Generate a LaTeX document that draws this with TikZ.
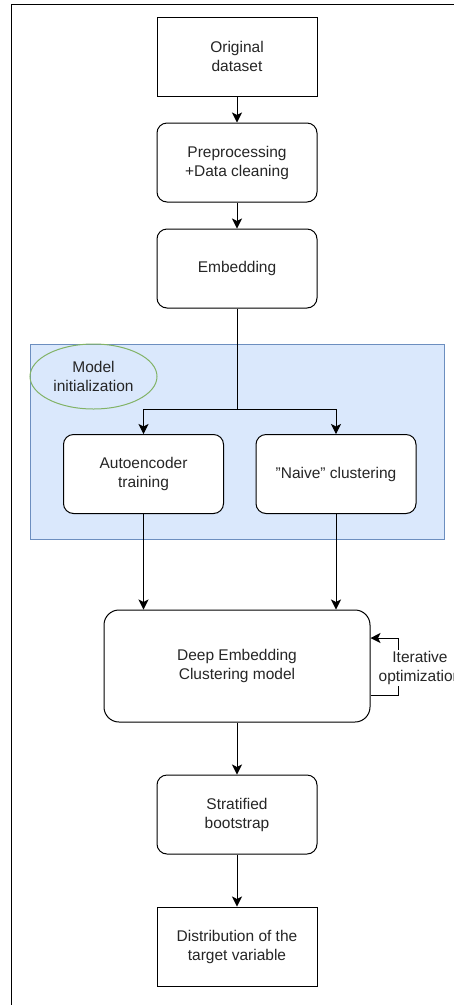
\documentclass[tikz,border=0pt]{standalone}
\usepackage{fontspec}
\setmainfont{Liberation Sans}
\usetikzlibrary{arrows.meta, positioning, shapes.geometric}
\definecolor{areafill}{HTML}{DAE8FC}
\definecolor{areadraw}{HTML}{6C8EBF}
\definecolor{labeldraw}{HTML}{82B366}
\tikzset{
>={Stealth[length=10pt,width=10pt,inset=2.5pt]}, % filled arrow heads
node distance=26pt, % gap between the boxes of the main column
every node/.style={font=\fontsize{15.5}{19}\selectfont, text=black!85},
box/.style={draw, line width=1pt, fill=white, minimum width=160pt, minimum height=79pt, align=center},
roundbox/.style={box, rounded corners=10pt}, % rounded process box
initarea/.style={draw=areadraw, fill=areafill, line width=1pt},
initlabel/.style={ellipse, draw=labeldraw, line width=1pt, minimum width=127pt, minimum height=65pt, align=center, inner sep=0pt},
looplabel/.style={fill=white, align=center, inner sep=1pt},
}
\begin{document}
\begin{tikzpicture}[x=1pt,y=1pt,line width=1pt]
  \useasboundingbox (0,0) rectangle (454,-1005);
  % outer frame
  \draw (11,-1005) -- (11,-4.5) -- (454,-4.5);
  % model initialization area
  \draw[initarea] (30,-344) rectangle (444,-539);
  \node[initlabel] (init) at (93.5,-376.5) {Model\\initialization};

  \node[box] (orig) at (237,-56.5) {Original\\dataset};
  \node[roundbox, below=of orig] (prep) {Preprocessing\\+Data cleaning};
  \node[roundbox, below=of prep] (embed) {Embedding};
  \node[roundbox] (autoenc) at (143.5,-474) {Autoencoder\\training};
  \node[roundbox] (naive) at (336,-474) {\symbol{34}Naive\symbol{34} clustering};
  \node[roundbox, rounded corners=15pt, minimum width=266pt, minimum height=112pt] (dec) at (237,-666) {Deep Embedding\\Clustering model};
  \node[roundbox, below=52pt of dec] (strat) {Stratified\\bootstrap};
  \node[box, below=52pt of strat] (dist) {Distribution of the\\target variable};

  \coordinate (split) at (237,-409);
  \coordinate (loopb) at (398,-695);
  \coordinate (loopt) at (398,-638);

  \draw[->] (orig) -- (prep);
  \draw[->] (prep) -- (embed);
  \draw (embed) -- (split);
  \draw[->] (split) -| (autoenc);
  \draw[->] (split) -| (naive);
  \draw[->] (autoenc.south) -- (autoenc.south |- dec.north);
  \draw[->] (naive.south) -- (naive.south |- dec.north);
  \draw[->] (dec.east |- loopb) -- (loopb) -- (loopt) -- (dec.east |- loopt);
  \node[looplabel] (iter) at (420,-668) {Iterative\\optimization};
  \draw[->] (dec) -- (strat);
  \draw[->] (strat) -- (dist);
\end{tikzpicture}
\end{document}
